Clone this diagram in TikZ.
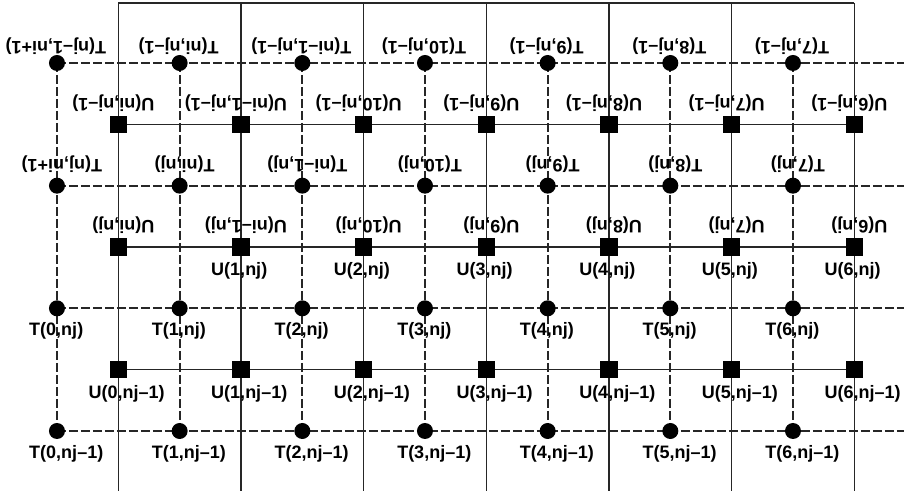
\documentclass[tikz,border=0pt]{standalone}
\usepackage{fontspec}
\setmainfont{Liberation Sans}
\usetikzlibrary{backgrounds}

\begin{document}
\begin{tikzpicture}[
  x=46pt, y=46pt,
  tpoint/.style={circle, fill=black, inner sep=0pt, minimum size=12pt},
  upoint/.style={rectangle, fill=black, inner sep=0pt, minimum size=13pt},
  cell/.style={line width=1.1pt, black!85},
  halfcell/.style={line width=1.3pt, black!85, dash pattern=on 7pt off 2pt},
  lab/.style={font=\fontsize{13.5}{15}\selectfont\bfseries, inner sep=0pt, anchor=north west},
  flip/.style={lab, rotate=180, anchor=north}
]
\useasboundingbox (-0.929,-6.979) rectangle (13.81,1.027);

% T points (circles) and U points (squares)
\foreach \i in {0,...,6} {
  \foreach \k in {0,...,3}
    \node[tpoint] (T-\i-\k) at ({2*\i},{-2*\k}) {};
  \foreach \k in {0,...,2}
    \node[upoint] (U-\i-\k) at ({2*\i+1},{-2*\k-1}) {};
  \coordinate (top-\i) at ({2*\i+1},0.98);
  \coordinate (bot-\i) at ({2*\i+1},-6.98);
}
\foreach \k in {0,...,3}
  \coordinate (end-\k) at (13.81,{-2*\k});

% mesh lines
\begin{scope}[on background layer]
  \draw[cell] (top-0) -- (top-6);
  \foreach \i in {0,...,6} {
    \draw[cell] (top-\i) -- (bot-\i);
    \draw[halfcell] (T-\i-0.center) -- (T-\i-3.center);
  }
  \foreach \k in {0,...,2}
    \draw[cell] (U-0-\k.center) -- (U-6-\k.center);
  \foreach \k in {0,...,3}
    \draw[halfcell] (T-0-\k.center) -- (end-\k);
\end{scope}

% labels below the lower points
\foreach \i in {0,...,6} {
  \node[lab] (tl-\i-2) at ([xshift=-21pt,yshift=-10.5pt]T-\i-2.center) {T(\i,nj)};
  \node[lab] (tl-\i-3) at ([xshift=-21pt,yshift=-10.5pt]T-\i-3.center) {T(\i,nj–1)};
  \node[lab] (ul-\i-2) at ([xshift=-22.5pt,yshift=-11.5pt]U-\i-2.center) {U(\i,nj–1)};
}
\foreach \i in {1,...,6}
  \node[lab] (ul-\i-1) at ([xshift=-22.5pt,yshift=-11.5pt]U-\i-1.center) {U(\i,nj)};

% upside-down labels above the upper points
\foreach \txt [count=\i from 0] in {{T(nj–1,ni+1)},{T(ni,nj–1)},{T(ni–1,nj–1)},{T(10,nj–1)},{T(9,nj–1)},{T(8,nj–1)},{T(7,nj–1)}}
  \node[flip] (tl-\i-0) at ([xshift=-0.75pt,yshift=6pt]T-\i-0.center) {\txt};
\foreach \txt [count=\i from 0] in {{T(nj,ni+1)},{T(ni,nj)},{T(ni–1,nj)},{T(10,nj)},{T(9,nj)},{T(8,nj)},{T(7,nj)}}
  \node[flip] (tl-\i-1) at ([xshift=3.75pt,yshift=9.75pt]T-\i-1.center) {\txt};
\foreach \txt [count=\i from 0] in {{U(ni,nj–1)},{U(ni–1,nj–1)},{U(10,nj–1)},{U(9,nj–1)},{U(8,nj–1)},{U(7,nj–1)},{U(6,nj–1)}}
  \node[flip] (ul-\i-0) at ([xshift=-3.75pt,yshift=9.75pt]U-\i-0.center) {\txt};
\foreach \txt [count=\i from 0] in {{U(ni,nj)},{U(ni–1,nj)},{U(10,nj)},{U(9,nj)},{U(8,nj)},{U(7,nj)},{U(6,nj)}}
  \node[flip] (ulb-\i-1) at ([xshift=3.75pt,yshift=9.75pt]U-\i-1.center) {\txt};
\end{tikzpicture}
\end{document}
